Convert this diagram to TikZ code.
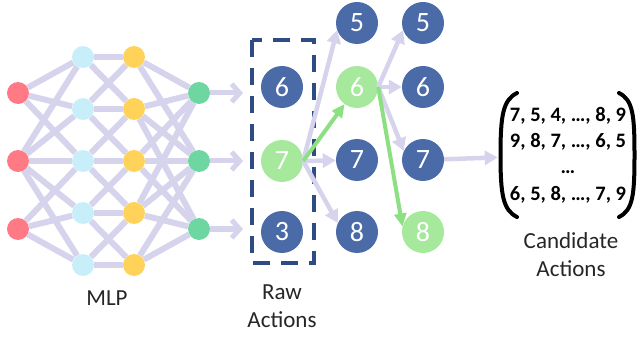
\documentclass[tikz,border=0pt]{standalone}
\usepackage{fontspec}
\setmainfont{Carlito}
\usepackage{xcolor}
\usetikzlibrary{arrows.meta, backgrounds}
\definecolor{linkc}{RGB}{214,212,236}
\definecolor{mlpred}{RGB}{255,122,133}
\definecolor{mlpblue}{RGB}{200,238,250}
\definecolor{mlpyellow}{RGB}{255,210,90}
\definecolor{mlpgreen}{RGB}{110,214,160}
\definecolor{actblue}{RGB}{74,106,168}
\definecolor{actgreen}{RGB}{166,232,156}
\definecolor{pathgreen}{RGB}{140,224,130}
\definecolor{boxblue}{RGB}{46,76,131}
\tikzset{
    neuron/.style={circle, minimum size=22pt, inner sep=0pt},
    link/.style={line width=6pt, draw=linkc},
    outflow/.style={-{Straight Barb[length=8pt, width=18pt]}, line width=5pt, draw=linkc},
    act/.style={circle, fill=actblue, minimum size=42pt, inner sep=0pt, text=white, font=\fontsize{28}{30}\selectfont},
    pick/.style={act, fill=actgreen},
    flow/.style={-{Triangle[length=13pt, width=14pt]}, line width=4.5pt, draw=linkc},
    greenflow/.style={-{Triangle[length=13pt, width=12pt]}, line width=4pt, draw=pathgreen},
    rawbox/.style={draw=boxblue, line width=3.5pt, dash pattern=on 17pt off 11pt},
    paren/.style={line width=4pt, line cap=round},
    caption/.style={align=center, text=black!85, font=\fontsize{23}{28}\selectfont}
}

\begin{document}
\begin{tikzpicture}[x=1pt, y=-1pt]
    \useasboundingbox (0,0) rectangle (637,339);
    % MLP layers
    \foreach \i/\y in {1/93, 2/161, 3/229} {
        \node[neuron, fill=mlpred] (inp\i) at (18,\y) {};
        \node[neuron, fill=mlpgreen] (outp\i) at (199,\y) {};
        \coordinate (tip\i) at (243,\y);
    }
    \foreach \i/\y in {1/57, 2/109, 3/161, 4/213, 5/265} {
        \node[neuron, fill=mlpblue] (hida\i) at (83,\y) {};
        \node[neuron, fill=mlpyellow] (hidb\i) at (134,\y) {};
    }
    \begin{scope}[on background layer]
        \foreach \a/\b in {1/1, 1/2, 1/3, 2/1, 2/2, 2/3, 2/4, 2/5, 3/3, 3/4, 3/5}
            \draw[link] (inp\a) -- (hida\b);
        \foreach \a/\b in {1/1, 1/2, 2/1, 2/2, 2/3, 3/2, 3/3, 3/4, 4/3, 4/4, 4/5, 5/4, 5/5}
            \draw[link] (hida\a) -- (hidb\b);
        \foreach \a/\b in {1/1, 1/2, 2/1, 2/2, 2/3, 3/1, 3/2, 3/3, 4/1, 4/2, 4/3, 5/2, 5/3}
            \draw[link] (hidb\a) -- (outp\b);
    \end{scope}
    \foreach \i in {1,2,3}
        \draw[outflow] (outp\i) -- (tip\i);
    \node[caption] (mlp) at (107,298) {MLP};
    % raw actions
    \draw[rawbox] (252,40) rectangle (314,263);
    \node[act] (raw6) at (282,87) {6};
    \node[pick] (raw7) at (282,161) {7};
    \node[act] (raw3) at (282,232) {3};
    \node[caption] (rawlabel) at (282,306) {Raw\\Actions};
    % second and third steps
    \node[act] (sec5) at (357,23) {5};
    \node[pick] (sec6) at (357,87) {6};
    \node[act] (sec7) at (357,160) {7};
    \node[act] (sec8) at (357,232) {8};
    \node[act] (thr5) at (423,23) {5};
    \node[act] (thr6) at (423,87) {6};
    \node[act] (thr7) at (423,160) {7};
    \node[pick] (thr8) at (423,232) {8};
    \draw[flow] (raw7.east) -- (sec5.200);
    \draw[flow] (raw7.east) -- (sec7);
    \draw[flow] (raw7.east) -- (sec8.155);
    \draw[greenflow] (raw7.east) -- (sec6);
    \draw[flow] (sec6.east) -- (thr5.200);
    \draw[flow] (sec6.east) -- (thr6);
    \draw[flow] (sec6.east) -- (thr7.155);
    \draw[greenflow] (sec6.east) -- (thr8.165);
    % candidate actions
    \node[align=center, inner xsep=12pt, font=\bfseries\fontsize{20.5}{26.3}\selectfont] (mat) at (568,155)
        {7, 5, 4, …, 8, 9\\9, 8, 7, …, 6, 5\\…\\6, 5, 8, …, 7, 9};
    \draw[paren] (517,93) .. controls (503,100) and (500.5,115) .. (500.5,155)
        .. controls (500.5,195) and (503,210) .. (517,217);
    \draw[paren] (619,93) .. controls (633,100) and (634.5,115) .. (634.5,155)
        .. controls (634.5,195) and (633,210) .. (619,217);
    \draw[flow] (thr7) -- (mat);
    \node[caption] (candlabel) at (571,255) {Candidate\\Actions};
\end{tikzpicture}
\end{document}
